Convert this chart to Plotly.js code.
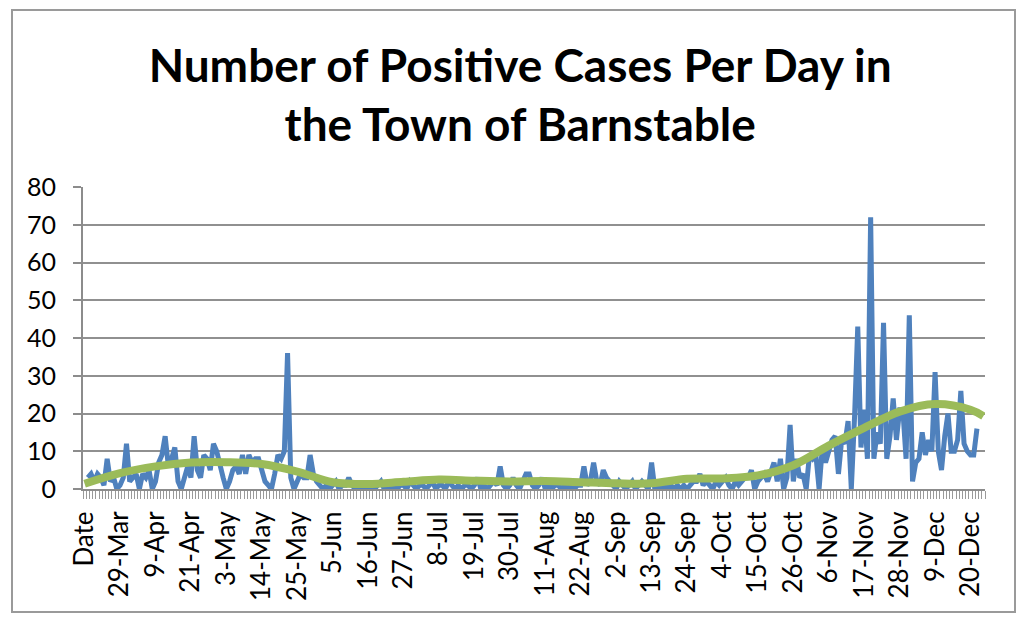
<!DOCTYPE html>
<html>
<head>
<meta charset="utf-8">
<script src="https://cdn.plot.ly/plotly-3.0.1.min.js"></script>
<style>
  html, body { margin: 0; padding: 0; background: #ffffff; }
  #chart { width: 1024px; height: 618px; }
</style>
</head>
<body>
<div id="chart"></div>
<script>
// ---- Data ----
const chartTitle = 'Number of Positive Cases Per Day in<br>the Town of Barnstable';

// Tick labels shown on the category axis (one every 11 categories)
const tickLabels = ['Date', '29-Mar', '9-Apr', '21-Apr', '3-May', '14-May', '25-May', '5-Jun',
  '16-Jun', '27-Jun', '8-Jul', '19-Jul', '30-Jul', '11-Aug', '22-Aug', '2-Sep', '13-Sep',
  '24-Sep', '4-Oct', '15-Oct', '26-Oct', '6-Nov', '17-Nov', '28-Nov', '9-Dec', '20-Dec'];
const labelStep = 11;
const categoryCount = 280;

// Daily positive cases (category 0 is the "Date" header row, no value)
const dailyCases = [
  null, 3, 4, 2, 4, 3, 1, 8, 2, 3,
  0, 1, 3, 12, 2, 3, 4, 0, 4, 3,
  5, 0, 2, 7, 9, 14, 6, 8, 11, 2,
  0, 3, 6, 3, 14, 5, 3, 9, 8, 5,
  12, 10, 6, 3, 0, 2, 5, 6, 4, 9,
  4, 9, 7, 8, 8, 5, 2, 1, 0, 4,
  9, 8, 10, 36, 3, 0, 2, 4, 3, 3,
  9, 4, 2, 1, 0, 1, 0, 1, 2, 0,
  1, 1, 3, 1, 0, 1, 0, 1, 0, 1,
  0, 1, 2, 0, 1, 0, 1, 0, 1, 1,
  0, 2, 1, 0, 1, 1, 0, 1, 2, 0,
  1, 1, 0, 2, 1, 0, 1, 0, 1, 1,
  0, 1, 3, 0, 1, 0, 1, 2, 1, 6,
  1, 0, 1, 3, 1, 0, 2, 4, 4, 1,
  0, 1, 3, 0, 1, 0, 1, 1, 0, 1,
  0, 1, 0, 1, 1, 6, 1, 2, 7, 2,
  1, 5, 3, 2, 1, 0, 2, 1, 0, 1,
  2, 0, 1, 2, 1, 0, 7, 0, 1, 0,
  1, 0, 1, 0, 1, 0, 1, 0, 1, 2,
  2, 4, 1, 2, 1, 0, 2, 1, 2, 3,
  1, 0, 2, 1, 2, 3, 3, 5, 0, 2,
  3, 4, 2, 5, 7, 2, 8, 0, 3, 17,
  2, 8, 3, 4, 0, 9, 8, 9, 0, 11,
  7, 10, 13, 14, 4, 13, 12, 18, 0, 19,
  43, 11, 21, 8, 72, 8, 15, 12, 44, 8,
  14, 24, 13, 21, 21, 8, 46, 2, 7, 8,
  15, 9, 13, 10, 31, 10, 5, 14, 20, 10,
  10, 13, 26, 12, 10, 9, 9, 16
];

// Trend line (polynomial trend in the original), read at these category indices
const trendIndex = [0, 11, 22, 33, 44, 55, 66, 77, 88, 99, 110, 121, 132, 143, 154, 165,
  176, 187, 198, 209, 220, 231, 242, 253, 264, 275, 279];
const trendValues = [1.4, 4.2, 6.0, 7.0, 7.1, 6.6, 4.6, 1.8, 1.3, 1.9, 2.5, 2.2, 2.0, 2.1, 1.8, 1.5,
  1.5, 2.7, 2.8, 3.6, 6.3, 11.5, 16.2, 20.5, 22.5, 21.0, 19.3];

const yTicks = [0, 10, 20, 30, 40, 50, 60, 70, 80];

// ---- Build traces ----
const caseIndex = dailyCases.map((_, i) => i);
const tickVals = tickLabels.map((_, k) => k * labelStep);

const traces = [
  {
    type: 'scatter', mode: 'lines',
    x: caseIndex, y: dailyCases,
    line: { color: '#4f81bd', width: 5, shape: 'linear' },
    connectgaps: false,
    hoverinfo: 'x+y', showlegend: false
  },
  {
    type: 'scatter', mode: 'lines',
    x: trendIndex, y: trendValues,
    line: { color: '#9bbb59', width: 8, shape: 'spline', smoothing: 1 },
    hoverinfo: 'skip', showlegend: false
  }
];

const FONT = 'Lato, "Open Sans", "DejaVu Sans", sans-serif';
const plotL = 83, plotR = 985, plotT = 187, plotB = 489;
const W = 1024, H = 618;
const px2x = px => (px - plotL) / (plotR - plotL);
const py2y = py => (plotB - py) / (plotB - plotT);

const layout = {
  width: W, height: H,
  paper_bgcolor: '#ffffff', plot_bgcolor: '#ffffff',
  margin: { l: plotL, r: W - plotR, t: plotT, b: H - plotB, pad: 0 },
  font: { family: FONT, color: '#000000', size: 24 },
  title: {
    text: chartTitle,
    font: { family: FONT, size: 46, color: '#000000', weight: 'bold' },
    x: 0.508, xanchor: 'center', xref: 'container',
    y: 0.868, yanchor: 'top', yref: 'container'
  },
  xaxis: {
    type: 'linear',
    range: [-0.5, categoryCount - 0.5],
    tickmode: 'array', tickvals: tickVals, ticktext: tickLabels,
    tickangle: -90,
    ticks: '', ticklen: 0,
    ticklabelstandoff: 10,
    minor: { tick0: -0.5, dtick: 1, ticks: 'outside', ticklen: 8, tickcolor: '#9a9a9a', tickwidth: 1, showgrid: false },
    showline: true, linecolor: '#8c8c8c', linewidth: 2,
    showgrid: false, zeroline: false,
    tickfont: { family: FONT, size: 26, color: '#000000' },
    fixedrange: true
  },
  yaxis: {
    range: [0, 80],
    tickmode: 'array', tickvals: yTicks,
    ticks: 'outside', ticklen: 8, tickcolor: '#8c8c8c', tickwidth: 2,
    ticklabelstandoff: 12,
    showline: true, linecolor: '#8c8c8c', linewidth: 2,
    showgrid: true, gridcolor: '#909090', gridwidth: 2,
    zeroline: false,
    tickfont: { family: FONT, size: 25, color: '#000000' },
    fixedrange: true
  },
  shapes: [
    {
      type: 'rect', xref: 'paper', yref: 'paper',
      x0: px2x(12), x1: px2x(1015), y0: py2y(612), y1: py2y(10),
      line: { color: '#9a9a9a', width: 2 }, fillcolor: 'rgba(0,0,0,0)', layer: 'below'
    }
  ]
};

Plotly.newPlot('chart', traces, layout, { displayModeBar: false, staticPlot: true });
</script>
</body>
</html>
